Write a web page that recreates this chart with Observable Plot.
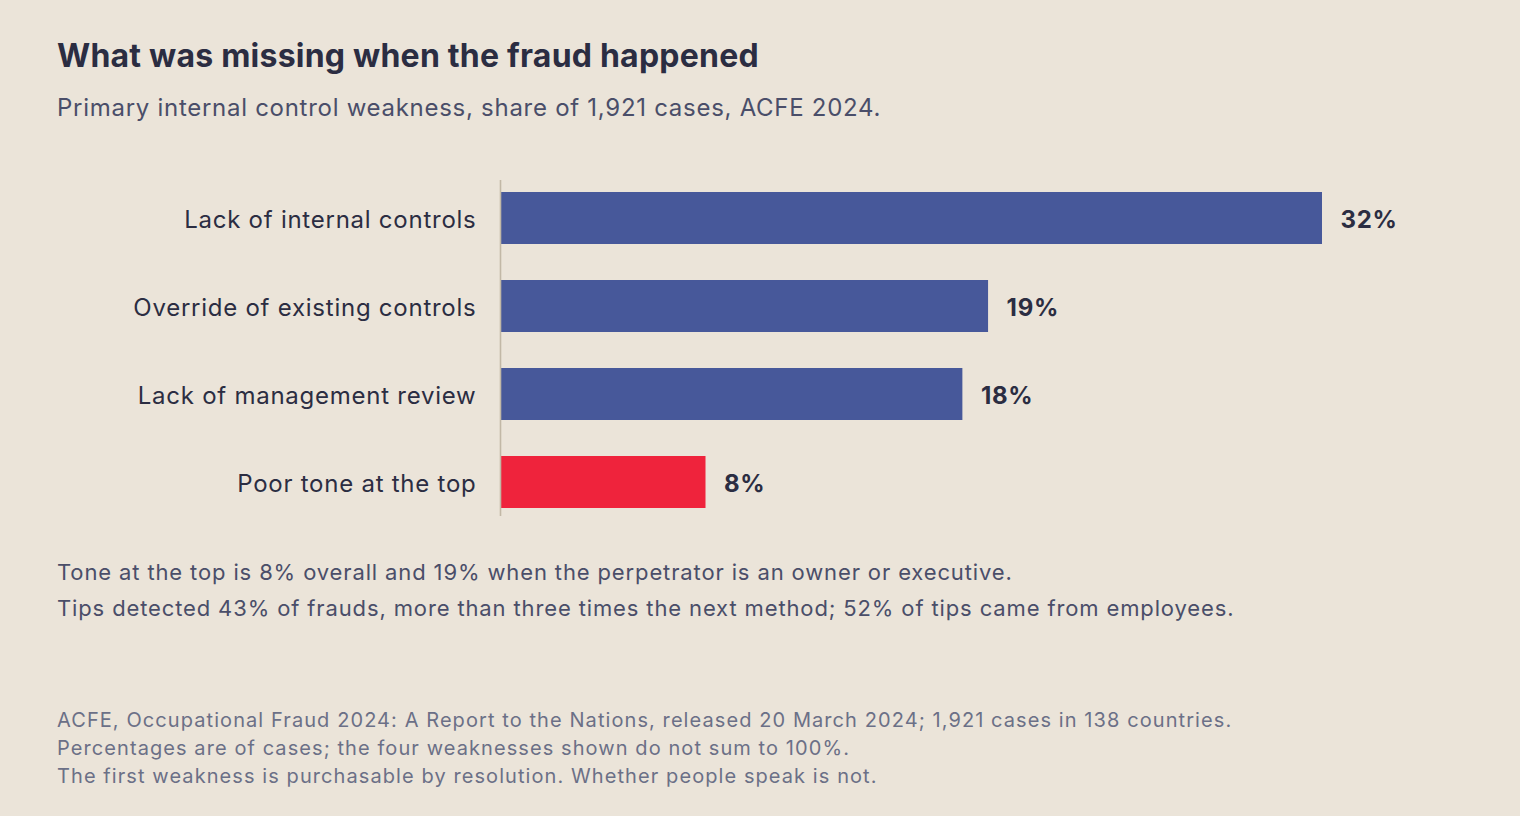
<!DOCTYPE html>
<html>
<head>
<meta charset="utf-8">
<script src="https://cdn.jsdelivr.net/npm/d3@7"></script>
<script src="https://cdn.jsdelivr.net/npm/@observablehq/plot@0.6"></script>
<style>
  html, body { margin: 0; padding: 0; background: #ebe4d9; }
  body { width: 1520px; height: 816px; position: relative; overflow: hidden; font-family: Inter, "Noto Sans", sans-serif; }
  .blk { position: absolute; left: 57px; white-space: nowrap; }
  #title { top: 37px; font-size: 32px; line-height: 38.4px; font-weight: 700; color: #2b2d42; letter-spacing: 0.22px; }
  #subtitle { top: 94px; font-size: 24px; line-height: 28.8px; color: #4a4e69; letter-spacing: 0.72px; }
  #chart { position: absolute; left: 0; top: 150px; }
  #notes { top: 554px; font-size: 22px; line-height: 36px; color: #4a4e69; letter-spacing: 0.87px; }
  #footer { top: 706px; font-size: 20px; line-height: 28px; color: #6b7087; letter-spacing: 1.08px; }
  #chart svg { letter-spacing: 0.75px; }
</style>
</head>
<body>
<div id="title" class="blk">What was missing when the fraud happened</div>
<div id="subtitle" class="blk">Primary internal control weakness, share of 1,921 cases, ACFE 2024.</div>
<div id="chart"></div>
<div id="notes" class="blk">
  <div>Tone at the top is 8% overall and 19% when the perpetrator is an owner or executive.</div>
  <div>Tips detected 43% of frauds, more than three times the next method; 52% of tips came from employees.</div>
</div>
<div id="footer" class="blk">
  <div>ACFE, Occupational Fraud 2024: A Report to the Nations, released 20 March 2024; 1,921 cases in 138 countries.</div>
  <div>Percentages are of cases; the four weaknesses shown do not sum to 100%.</div>
  <div>The first weakness is purchasable by resolution. Whether people speak is not.</div>
</div>
<script>
const categories = ["Lack of internal controls", "Override of existing controls", "Lack of management review", "Poor tone at the top"];
const values = [32, 19, 18, 8];
const highlight = [false, false, false, true];

const data = categories.map((c, i) => ({category: c, value: values[i], hl: highlight[i]}));

const chart = Plot.plot({
  width: 1520,
  height: 386,
  marginTop: 30,
  marginBottom: 20,
  marginLeft: 500,
  marginRight: 198,
  style: {background: "transparent", fontFamily: "Inter, 'Noto Sans', sans-serif", fontSize: "24px", color: "#2b2d42", overflow: "visible"},
  x: {domain: [0, 32], axis: null},
  y: {domain: categories, paddingInner: 36/88, paddingOuter: 0, insetTop: 12, insetBottom: 8, label: null, tickSize: 0, tickPadding: 25},
  marks: [
    Plot.barX(data, {y: "category", x: "value", fill: d => d.hl ? "#ef233c" : "#47589a", insetLeft: 1}),
    Plot.ruleX([0], {stroke: "#c2b8a6", strokeWidth: 1.6}),
    Plot.text(data, {y: "category", x: "value", text: d => d.value + "%", textAnchor: "start", dx: 18, dy: 2, fontWeight: 700, fontSize: 24, fill: "#2b2d42"}),
    Plot.axisY({tickSize: 0, tickPadding: 24, label: null, fontSize: 24, dy: 2})
  ]
});
document.getElementById("chart").appendChild(chart);
</script>
</body>
</html>
